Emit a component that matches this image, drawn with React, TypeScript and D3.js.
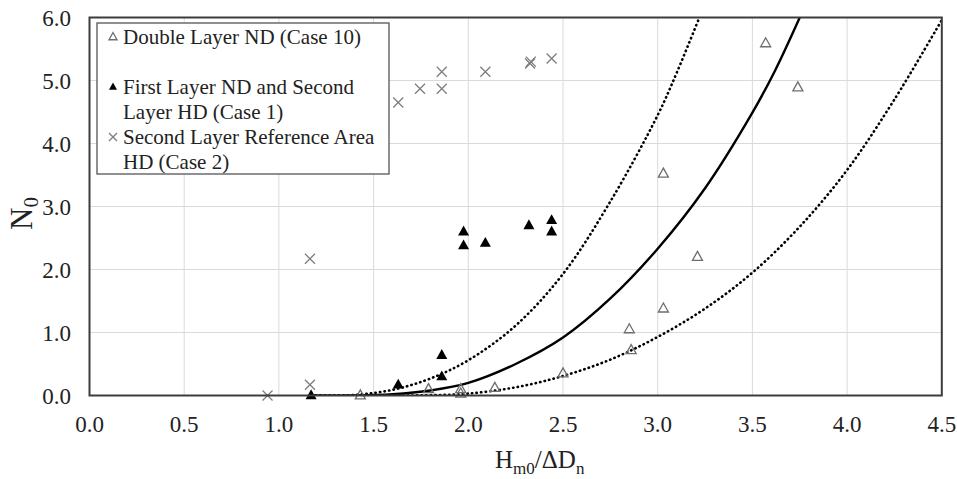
import * as d3 from "d3";

// chart values
const case10X = [1.43, 1.79, 1.96, 1.96, 2.14, 2.5, 2.85, 2.86, 3.03, 3.03, 3.21, 3.57, 3.74];
const case10Y = [0.0, 0.1, 0.1, 0.03, 0.12, 0.35, 1.05, 0.72, 1.38, 3.52, 2.2, 5.59, 4.89];

const case1X = [1.17, 1.63, 1.86, 1.86, 1.975, 1.975, 2.09, 2.32, 2.44, 2.44];
const case1Y = [0.0, 0.17, 0.3, 0.64, 2.38, 2.6, 2.42, 2.7, 2.6, 2.78];

const case2X = [0.94, 1.164, 1.164, 1.63, 1.745, 1.86, 1.86, 2.09, 2.326, 2.33, 2.44];
const case2Y = [0.0, 0.17, 2.17, 4.65, 4.87, 4.87, 5.14, 5.14, 5.27, 5.3, 5.35];

// fitted curve (solid) and its bounds (dotted)
const meanX = [1.17, 1.4, 1.6, 1.8, 2.0, 2.25, 2.5, 2.75, 3.0, 3.25, 3.5, 3.62, 3.75];
const meanY = [0, 0.0, 0.02, 0.08, 0.2, 0.5, 0.92, 1.54, 2.33, 3.29, 4.49, 5.16, 6.0];
const upperX = [1.17, 1.4, 1.6, 1.8, 2.0, 2.25, 2.5, 2.75, 3.0, 3.1, 3.22];
const upperY = [0, 0.01, 0.09, 0.27, 0.56, 1.11, 1.93, 3.08, 4.45, 5.12, 6.0];
const lowerX = [1.17, 1.6, 1.8, 2.0, 2.25, 2.5, 2.75, 3.0, 3.25, 3.5, 3.75, 4.0, 4.25, 4.5];
const lowerY = [0, 0, 0.005, 0.03, 0.13, 0.31, 0.57, 0.93, 1.38, 1.95, 2.68, 3.58, 4.7, 5.96];

const xTicks = [0, 0.5, 1, 1.5, 2, 2.5, 3, 3.5, 4, 4.5];
const yTicks = [0, 1, 2, 3, 4, 5, 6];

const legendItems = [
  { kind: "open", lines: ["Double Layer ND (Case 10)"] },
  { kind: "filled", lines: ["First Layer ND and Second", "Layer HD (Case 1)"] },
  { kind: "cross", lines: ["Second Layer Reference Area", "HD (Case 2)"] },
];

const W = 957;
const H = 479;
const FONT = "Liberation Serif, Times New Roman, serif";

function Tri({ x, y, s, filled }) {
  const h = s * 0.9;
  const p = `M${x},${y - h * 0.62} L${x + s / 2},${y + h * 0.38} L${x - s / 2},${y + h * 0.38} Z`;
  return filled ? (
    <path d={p} fill="#000" />
  ) : (
    <path d={p} fill="none" stroke="#6e6e6e" strokeWidth={1.3} />
  );
}

function Cross({ x, y, s }) {
  const r = s / 2;
  return (
    <path
      d={`M${x - r},${y - r} L${x + r},${y + r} M${x - r},${y + r} L${x + r},${y - r}`}
      stroke="#7d7d7d"
      strokeWidth={1.3}
      fill="none"
    />
  );
}

export default function App() {
  const x = d3.scaleLinear().domain([0, 4.5]).range([89.5, 941.8]);
  const y = d3.scaleLinear().domain([0, 6]).range([395.5, 17.5]);

  const line = d3
    .line<number>()
    .x((d) => d[0])
    .y((d) => d[1])
    .curve(d3.curveCatmullRom.alpha(0.5));
  const path = (xs, ys) => line(xs.map((v, i) => [x(v), y(ys[i])]));

  const [x0, x1] = x.range();
  const [yb, yt] = y.range();

  return (
    <svg
      width={W}
      height={H}
      style={{ position: "absolute", left: 0, top: 0, background: "#fff", fontFamily: FONT }}
    >
      <defs>
        <clipPath id="plot">
          <rect x={x0} y={yt} width={x1 - x0} height={yb - yt} />
        </clipPath>
      </defs>
      <rect width={W} height={H} fill="#fff" />

      {/* grid */}
      {xTicks.map((t) => (
        <line key={"gx" + t} x1={x(t)} x2={x(t)} y1={yt} y2={yb} stroke="#dadada" strokeWidth={1} />
      ))}
      {yTicks.map((t) => (
        <line key={"gy" + t} x1={x0} x2={x1} y1={y(t)} y2={y(t)} stroke="#dadada" strokeWidth={1} />
      ))}

      {/* curves */}
      <g clipPath="url(#plot)" fill="none" stroke="#000">
        <path d={path(meanX, meanY)} strokeWidth={2.4} />
        <path d={path(upperX, upperY)} strokeWidth={2.6} strokeDasharray="0.4 4.2" strokeLinecap="round" />
        <path d={path(lowerX, lowerY)} strokeWidth={2.6} strokeDasharray="0.4 4.2" strokeLinecap="round" />
      </g>

      {/* points */}
      {case2X.map((v, i) => (
        <Cross key={"c2" + i} x={x(v)} y={y(case2Y[i])} s={10} />
      ))}
      {case10X.map((v, i) => (
        <Tri key={"c10" + i} x={x(v)} y={y(case10Y[i])} s={10} />
      ))}
      {case1X.map((v, i) => (
        <Tri key={"c1" + i} x={x(v)} y={y(case1Y[i])} s={11} filled />
      ))}

      {/* frame */}
      <rect x={x0} y={yt} width={x1 - x0} height={yb - yt} fill="none" stroke="#3c3c3c" strokeWidth={2} />

      {/* tick labels */}
      {yTicks.map((t) => (
        <text key={"ty" + t} x={71} y={y(t)} dy="0.35em" textAnchor="end" fontSize={23} fill="#222">
          {d3.format(".1f")(t)}
        </text>
      ))}
      {xTicks.map((t) => (
        <text key={"tx" + t} x={x(t)} y={432} textAnchor="middle" fontSize={23} fill="#222">
          {d3.format(".1f")(t)}
        </text>
      ))}

      {/* axis titles */}
      <text x={495} y={468} fontSize={25} fill="#222">
        H<tspan fontSize={17} dy={6}>m0</tspan>
        <tspan dy={-6}>/ΔD</tspan>
        <tspan fontSize={17} dy={6}>n</tspan>
      </text>
      <text transform="translate(32,230) rotate(-90)" fontSize={31} fill="#222">
        N<tspan fontSize={21} dy={6}>0</tspan>
      </text>

      {/* legend */}
      <rect x={97} y={23} width={292} height={151} fill="#fff" stroke="#555" strokeWidth={1.3} />
      {legendItems.map((it, i) => {
        const base = [44, 94, 144][i];
        const my = base - 7;
        return (
          <g key={"lg" + i}>
            {it.kind === "cross" ? (
              <Cross x={113} y={my} s={8} />
            ) : (
              <Tri x={113} y={my} s={8} filled={it.kind === "filled"} />
            )}
            {it.lines.map((l, j) => (
              <text key={j} x={123} y={base + j * 25} fontSize={21} fill="#222">
                {l}
              </text>
            ))}
          </g>
        );
      })}
    </svg>
  );
}
